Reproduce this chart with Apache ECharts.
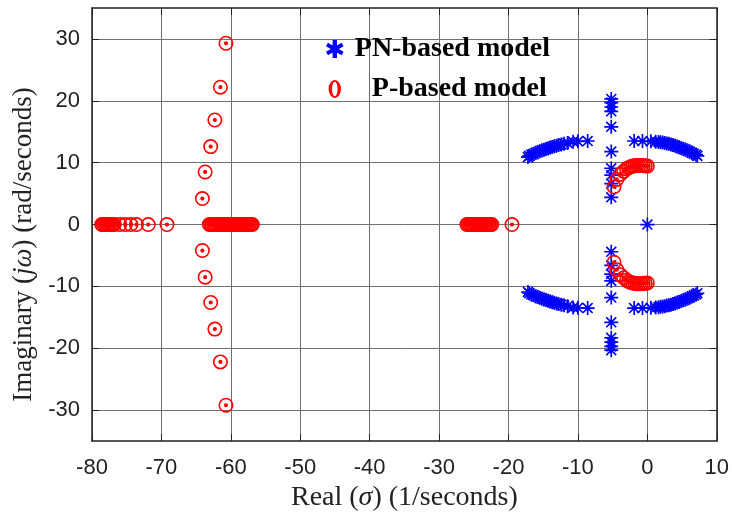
<!DOCTYPE html>
<html>
<head>
<meta charset="utf-8">
<script src="https://cdn.jsdelivr.net/npm/echarts@6/dist/echarts.min.js"></script>
<style>html,body{margin:0;padding:0;background:#fff}#c{width:732px;height:517px}</style>
</head>
<body>
<div id="c"></div>
<script>
// ---------- data ----------
const xTicks = [-80, -70, -60, -50, -40, -30, -20, -10, 0, 10];
const yTicks = [-30, -20, -10, 0, 10, 20, 30];

// PN-based model (blue asterisks)
const pnColumnReal = -5.2;
const pnColumnImag = [20.3, 19.7, 19.0, 18.3, 15.8, 11.8, 9.1, 8.0, 6.6, 4.4,
                      -4.4, -6.6, -8.0, -9.1, -11.8, -15.8, -18.3, -19.0, -19.7, -20.3];
const pnArcLeftUpper = [[-17.2,10.9],[-17.0,11.1],[-16.7,11.3],[-16.4,11.4],[-16.1,11.6],[-15.8,11.7],[-15.5,11.85],[-15.2,12.0],[-14.9,12.1],[-14.6,12.2],[-14.3,12.3],[-14.0,12.45],[-13.7,12.55],[-13.4,12.65],[-13.1,12.75],[-12.8,12.85],[-12.4,12.95],[-12.0,13.05],[-11.5,13.2],[-10.7,13.4],[-10.0,13.45],[-8.6,13.5]];
const pnArcRightUpper = [[-1.9,13.5],[-0.7,13.5],[0.5,13.45],[1.2,13.4],[1.6,13.35],[1.9,13.3],[2.2,13.25],[2.5,13.2],[2.8,13.1],[3.1,13.05],[3.4,12.95],[3.7,12.85],[4.0,12.75],[4.3,12.6],[4.6,12.5],[4.9,12.35],[5.2,12.2],[5.5,12.1],[5.8,11.95],[6.1,11.8],[6.4,11.6],[6.7,11.45],[7.0,11.3],[7.2,11.1]];
const pnArcLeftLower = [[-17.2,-10.9],[-17.0,-11.1],[-16.7,-11.3],[-16.4,-11.4],[-16.1,-11.6],[-15.8,-11.7],[-15.5,-11.85],[-15.2,-12.0],[-14.9,-12.1],[-14.6,-12.2],[-14.3,-12.3],[-14.0,-12.45],[-13.7,-12.55],[-13.4,-12.65],[-13.1,-12.75],[-12.8,-12.85],[-12.4,-12.95],[-12.0,-13.05],[-11.5,-13.2],[-10.7,-13.4],[-10.0,-13.45],[-8.6,-13.5]];
const pnArcRightLower = [[-1.9,-13.5],[-0.7,-13.5],[0.5,-13.45],[1.2,-13.4],[1.6,-13.35],[1.9,-13.3],[2.2,-13.25],[2.5,-13.2],[2.8,-13.1],[3.1,-13.05],[3.4,-12.95],[3.7,-12.85],[4.0,-12.75],[4.3,-12.6],[4.6,-12.5],[4.9,-12.35],[5.2,-12.2],[5.5,-12.1],[5.8,-11.95],[6.1,-11.8],[6.4,-11.6],[6.7,-11.45],[7.0,-11.3],[7.2,-11.1]];
const pnOrigin = [[0, 0]];

// P-based model (red circles)
const pRealAxisPoles = [-78.6,-78.4,-78.2,-78.0,-77.8,-77.6,-77.4,-77.2,-77.0,-76.8,-76.0,-75.2,-74.4,-73.6,-71.9,-69.2,
  -63.1,-62.9,-62.7,-62.5,-62.3,-62.1,-61.9,-61.7,-61.5,-61.3,-61.1,-60.9,-60.7,-60.5,-60.3,-60.1,-59.9,-59.7,-59.5,-59.3,-59.1,-58.9,-58.7,-58.5,-58.3,-58.1,-57.9,-57.7,-57.5,-57.3,-57.1,-56.9,
  -26.0,-25.8,-25.6,-25.4,-25.2,-25.0,-24.8,-24.6,-24.4,-24.2,-24.0,-23.8,-23.6,-23.4,-23.2,-23.0,-22.8,-22.6,-22.4,-19.5];
const pColumnUpper = [[-60.7,29.3],[-61.5,22.2],[-62.3,16.9],[-62.9,12.6],[-63.7,8.5],[-64.1,4.2]];
const pColumnLower = [[-64.1,-4.2],[-63.7,-8.5],[-62.9,-12.6],[-62.3,-16.9],[-61.5,-22.2],[-60.7,-29.2]];
const pHookUpper = [[-4.8,6.1],[-4.4,7.3],[-3.9,8.1],[-3.4,8.6],[-3.0,9.0],[-2.7,9.2],[-2.4,9.35],[-2.1,9.45],[-1.8,9.5],[-1.5,9.55],[-1.2,9.55],[-0.9,9.55],[-0.6,9.5],[-0.3,9.5],[0.0,9.45]];
const pHookLower = [[-4.8,-6.1],[-4.4,-7.3],[-3.9,-8.1],[-3.4,-8.6],[-3.0,-9.0],[-2.7,-9.2],[-2.4,-9.35],[-2.1,-9.45],[-1.8,-9.5],[-1.5,-9.55],[-1.2,-9.55],[-0.9,-9.55],[-0.6,-9.5],[-0.3,-9.5],[0.0,-9.45]];

// ---------- build ----------
const pnData = [].concat(
  pnColumnImag.map(v => [pnColumnReal, v]),
  pnArcLeftUpper, pnArcRightUpper, pnArcLeftLower, pnArcRightLower, pnOrigin
);
const pData = [].concat(
  pRealAxisPoles.map(v => [v, 0]),
  pColumnUpper, pColumnLower, pHookUpper, pHookLower
);

const asteriskPath = 'path://M0 4.4L10 4.4L10 5.6L0 5.6Z M4.4 0L5.6 0L5.6 10L4.4 10Z M1.88 1.04L8.96 8.12L8.12 8.96L1.04 1.88Z M8.96 1.88L1.88 8.96L1.04 8.12L8.12 1.04Z';
const ringDotPath = 'path://M0 7A7 7 0 1 1 14 7A7 7 0 1 1 0 7Z M1.5 7A5.5 5.5 0 1 0 12.5 7A5.5 5.5 0 1 0 1.5 7Z M5.05 7A1.95 1.95 0 1 1 8.95 7A1.95 1.95 0 1 1 5.05 7Z';
const legendStarPath = 'path://M3.8 0L6.2 0L6.2 10L3.8 10Z M1.22 1.55L9.88 6.55L8.78 8.45L0.12 3.45Z M0.12 6.55L8.78 1.55L9.88 3.45L1.22 8.45Z';
const legendOvalPath = 'path://M0 6.5A4.5 6.5 0 1 1 9 6.5A4.5 6.5 0 1 1 0 6.5Z M2.5 6.5A2.0 5.3 0 1 0 6.5 6.5A2.0 5.3 0 1 0 2.5 6.5Z';

const serif = '"Liberation Serif", "Times New Roman", serif';
const sans = '"Liberation Sans", Arial, sans-serif';

const chart = echarts.init(document.getElementById('c'), null, {renderer: 'canvas'});
const gridLine = {show: true, lineStyle: {color: '#707070', width: 1}};
chart.setOption({
  animation: false,
  backgroundColor: '#fff',
  grid: {left: 92, right: 12, top: 8, bottom: 74},
  legend: {
    orient: 'vertical',
    left: 321, top: 29,
    itemWidth: 30, itemHeight: 18, itemGap: 10,
    symbolKeepAspect: true,
    textStyle: {fontFamily: serif, fontWeight: 'bold', fontSize: 28, color: '#000', lineHeight: 30,
      rich: {p: {fontFamily: serif, fontWeight: 'bold', fontSize: 28, color: '#000', lineHeight: 30, padding: [0, 0, 0, 17]}}},
    formatter: name => name === 'P-based model' ? '{p|' + name + '}' : name,
    data: [
      {name: 'PN-based model', icon: legendStarPath, itemStyle: {color: '#0000ff'}},
      {name: 'P-based model', icon: legendOvalPath, itemStyle: {color: '#ff0000'}}
    ]
  },
  xAxis: [{
    type: 'value', min: xTicks[0], max: xTicks[xTicks.length - 1], interval: 10,
    position: 'bottom',
    name: 'Real ({i|σ}) (1/seconds)', nameLocation: 'middle', nameGap: 40,
    nameTextStyle: {fontFamily: serif, fontSize: 28, color: '#222', rich: {i: {fontFamily: serif, fontSize: 28, fontStyle: 'italic', color: '#222'}}},
    axisLine: {show: true, onZero: false, lineStyle: {color: '#222', width: 1.5}},
    axisTick: {show: true, inside: true, length: 7, lineStyle: {color: '#222', width: 1}},
    axisLabel: {fontFamily: sans, fontSize: 22, color: '#222', margin: 16},
    splitLine: gridLine
  }, {
    type: 'value', min: xTicks[0], max: xTicks[xTicks.length - 1], interval: 10,
    position: 'top',
    axisLine: {show: true, onZero: false, lineStyle: {color: '#222', width: 1.5}},
    axisTick: {show: true, inside: true, length: 7, lineStyle: {color: '#222', width: 1}},
    axisLabel: {show: false}, splitLine: {show: false}
  }],
  yAxis: [{
    type: 'value', min: -35, max: 35,
    position: 'left',
    name: 'Imaginary ({i|jω}) (rad/seconds)', nameLocation: 'middle', nameGap: 54,
    nameTextStyle: {fontFamily: serif, fontSize: 27, color: '#222', padding: [0, 40, 0, 0],
      rich: {i: {fontFamily: serif, fontSize: 27, fontStyle: 'italic', color: '#222'}}},
    axisLine: {show: true, onZero: false, lineStyle: {color: '#222', width: 1.5}},
    axisTick: {show: true, inside: true, length: 7, customValues: yTicks, lineStyle: {color: '#222', width: 1}},
    axisLabel: {fontFamily: sans, fontSize: 22, color: '#222', margin: 12, customValues: yTicks},
    splitLine: gridLine
  }, {
    type: 'value', min: -35, max: 35,
    position: 'right',
    axisLine: {show: true, onZero: false, lineStyle: {color: '#222', width: 1.5}},
    axisTick: {show: true, inside: true, length: 7, customValues: yTicks, lineStyle: {color: '#222', width: 1}},
    axisLabel: {show: false, customValues: yTicks}, splitLine: {show: false}
  }],
  series: [{
    name: 'PN-based model', type: 'scatter', xAxisIndex: 0, yAxisIndex: 0,
    symbol: asteriskPath, symbolSize: 14, symbolKeepAspect: true,
    itemStyle: {color: '#0000ff', opacity: 1},
    data: pnData
  }, {
    name: 'P-based model', type: 'scatter', xAxisIndex: 0, yAxisIndex: 0,
    symbol: ringDotPath, symbolSize: 15, symbolKeepAspect: true,
    itemStyle: {color: '#ff0000', opacity: 1},
    data: pData
  }]
});
</script>
</body>
</html>
